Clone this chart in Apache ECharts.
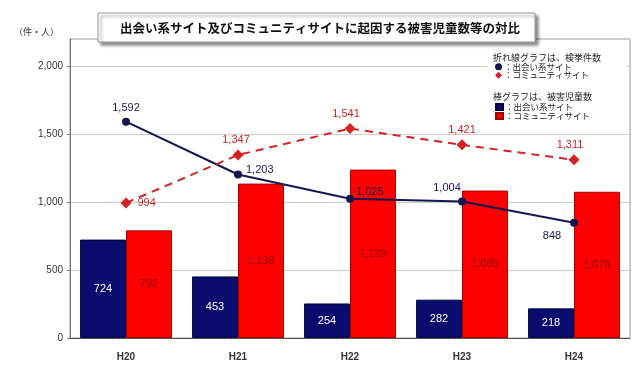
<!DOCTYPE html>
<html><head><meta charset="utf-8">
<script src="https://cdn.jsdelivr.net/npm/echarts@6/dist/echarts.min.js"></script>
<style>html,body{margin:0;padding:0;background:#fff}#c{width:640px;height:368px}</style>
</head><body><div id="c"></div>
<script>
const categories = ['H20', 'H21', 'H22', 'H23', 'H24'];
const barDeai = [724, 453, 254, 282, 218];
const barCommunity = [792, 1136, 1239, 1085, 1076];
const lineDeai = [1592, 1203, 1025, 1004, 848];
const lineCommunity = [994, 1347, 1541, 1421, 1311];
const yTicks = [0, 500, 1000, 1500, 2000];
const titleText = '出会い系サイト及びコミュニティサイトに起因する被害児童数等の対比';
const unitText = '（件・人）';

const fmt = v => Number(v).toLocaleString('en-US');
const jp = '"Noto Sans CJK JP", sans-serif';
const num = '"Liberation Sans", Arial, sans-serif';

// label placement styles for line points
const deaiLabelStyle = [
  {position: 'top', offset: [0, 0]},
  {position: 'right', offset: [0, -5]},
  {position: 'right', offset: [-2, -7]},
  {position: 'top', offset: [-15, 0]},
  {position: 'bottom', offset: [-22, 0]}
];
const commLabelStyle = [
  {position: 'right', offset: [2, 0]},
  {position: 'top', offset: [-2, 0]},
  {position: 'top', offset: [-4, 0]},
  {position: 'top', offset: [0, 0]},
  {position: 'top', offset: [-4, 0]}
];

const chart = echarts.init(document.getElementById('c'));
chart.setOption({
  animation: false,
  backgroundColor: '#fff',
  grid: {left: 70, right: 10, top: 39, bottom: 30, show: true, borderColor: '#999', borderWidth: 1, backgroundColor: 'transparent'},
  xAxis: {
    type: 'category', data: categories,
    axisLine: {lineStyle: {color: '#555', width: 1}},
    axisTick: {show: false},
    axisLabel: {color: '#333', fontSize: 10, fontWeight: 'bold', fontFamily: num, margin: 14}
  },
  yAxis: {
    type: 'value', min: yTicks[0], max: 2200, interval: 500,
    axisLine: {show: true, lineStyle: {color: '#777'}},
    axisTick: {show: true, length: 3, lineStyle: {color: '#777'}},
    axisLabel: {color: '#333', fontSize: 10, fontFamily: num, margin: 7, showMaxLabel: false,
      formatter: v => yTicks.indexOf(v) >= 0 ? fmt(v) : ''},
    splitLine: {lineStyle: {color: '#ccc'}}
  },
  legend: [
    {
      data: [{name: 'L出会い系', icon: 'circle'}, {name: 'Lコミュニティ', icon: 'diamond'}],
      orient: 'vertical', left: 495, top: 62.5, padding: 0, itemGap: 0, itemWidth: 7, itemHeight: 7,
      formatter: n => n === 'L出会い系' ? '：出会い系サイト' : '：コミュニティサイト',
      textStyle: {fontSize: 8.5, lineHeight: 8.5, color: '#222', fontFamily: jp, padding: [0, 0, 0, -3]}
    },
    {
      data: [{name: 'B出会い系', icon: 'rect'}, {name: 'Bコミュニティ', icon: 'rect'}],
      orient: 'vertical', left: 495, top: 102.5, padding: 0, itemGap: 0, itemWidth: 7, itemHeight: 6,
      formatter: n => n === 'B出会い系' ? '：出会い系サイト' : '：コミュニティサイト',
      textStyle: {fontSize: 8.5, lineHeight: 9, color: '#222', fontFamily: jp, padding: [0, 0, 0, -3]}
    }
  ],
  graphic: [
    {type: 'rect', z: 1, shape: {x: 487, y: 44, width: 140, height: 78}, style: {fill: '#fff'}},
    {type: 'text', z: 5, x: 493, y: 58, style: {text: '折れ線グラフは、検挙件数', fontSize: 9, fontFamily: jp, fill: '#222', verticalAlign: 'middle'}},
    {type: 'text', z: 5, x: 493, y: 97, style: {text: '棒グラフは、被害児童数', fontSize: 9, fontFamily: jp, fill: '#222', verticalAlign: 'middle'}},
    {type: 'rect', z: 10, shape: {x: 98, y: 13, width: 437, height: 29},
      style: {fill: '#fff', stroke: '#999', lineWidth: 1, shadowBlur: 3, shadowOffsetX: 3, shadowOffsetY: 3, shadowColor: 'rgba(0,0,0,0.45)'}},
    {type: 'text', z: 11, x: 320, y: 28, style: {text: titleText, fontSize: 12.5, fontWeight: 'bold', fontFamily: jp, fill: '#111', align: 'center', verticalAlign: 'middle'}},
    {type: 'text', z: 5, x: 14, y: 32, style: {text: unitText, fontSize: 9, fontFamily: jp, fill: '#333', verticalAlign: 'middle'}}
  ],
  series: [
    {
      name: 'B出会い系', type: 'bar', data: barDeai, barGap: '0%', barCategoryGap: '18%',
      itemStyle: {color: '#0c0c6e', borderColor: '#05053a', borderWidth: 1},
      label: {show: true, position: 'inside', color: '#fff', fontSize: 11, fontFamily: num, formatter: p => fmt(p.value)}
    },
    {
      name: 'Bコミュニティ', type: 'bar', data: barCommunity,
      itemStyle: {color: '#ff0000', borderColor: '#a00000', borderWidth: 1},
      label: {show: true, position: 'inside', color: '#8a0a0a', fontSize: 11, fontFamily: num, formatter: p => fmt(p.value)}
    },
    {
      name: 'L出会い系', type: 'line', z: 6, data: lineDeai.map((v, i) => ({value: v, label: deaiLabelStyle[i]})),
      symbol: 'circle', symbolSize: 8,
      lineStyle: {color: '#15154f', width: 2}, itemStyle: {color: '#15154f'},
      label: {show: true, color: '#1a1a50', fontSize: 11, fontFamily: num, distance: 4, formatter: p => fmt(p.value)}
    },
    {
      name: 'Lコミュニティ', type: 'line', z: 6, data: lineCommunity.map((v, i) => ({value: v, label: commLabelStyle[i]})),
      symbol: 'diamond', symbolSize: 11,
      lineStyle: {color: '#d42222', width: 2, type: [8, 6]}, itemStyle: {color: '#d42222'},
      label: {show: true, color: '#cc2222', fontSize: 11, fontFamily: num, distance: 4, formatter: p => fmt(p.value)}
    }
  ]
});
</script>
</body></html>
